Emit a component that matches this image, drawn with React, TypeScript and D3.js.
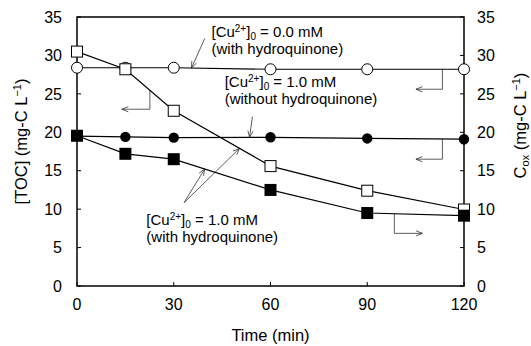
import * as d3 from 'd3';

// time (min)
const TIMES = [0, 15, 30, 60, 90, 120];
// [TOC], Cu 0.0 mM with hydroquinone (open circles)
const TOC_CU0 = [28.4, 28.4, 28.4, 28.2, 28.2, 28.2];
// [TOC], Cu 1.0 mM with hydroquinone (filled circles)
const TOC_CU1_HQ = [19.5, 19.4, 19.3, 19.35, 19.2, 19.1];
// C_ox, Cu 1.0 mM without hydroquinone (open squares)
const COX_CU1 = [30.5, 28.2, 22.8, 15.6, 12.4, 9.95];
// C_ox, Cu 1.0 mM with hydroquinone (filled squares)
const COX_CU1_HQ = [19.55, 17.2, 16.5, 12.5, 9.5, 9.15];

const X_TICKS = [0, 30, 60, 90, 120];
const Y_TICKS = [0, 5, 10, 15, 20, 25, 30, 35];

const W = 531;
const H = 346;
const FONT = '"Liberation Sans", Arial, sans-serif';

function arrowHead(x1: number, y1: number, x2: number, y2: number, len = 7, ang = 0.38) {
  const a = Math.atan2(y1 - y2, x1 - x2);
  const p1 = [x2 + len * Math.cos(a + ang), y2 + len * Math.sin(a + ang)];
  const p2 = [x2 + len * Math.cos(a - ang), y2 + len * Math.sin(a - ang)];
  return `M${p1[0]},${p1[1]}L${x2},${y2}L${p2[0]},${p2[1]}`;
}

function CuLabel({ x, y, conc, note }: { x: number; y: number; conc: string; note: string }) {
  return (
    <text x={x} y={y} fontSize={15} fontFamily={FONT} fill="#000">
      <tspan>[Cu</tspan>
      <tspan fontSize={10} dy={-5}>2+</tspan>
      <tspan dy={5}>]</tspan>
      <tspan fontSize={10} dy={3}>0</tspan>
      <tspan dy={-3}>{` = ${conc} mM`}</tspan>
      <tspan x={x} dy={17}>{note}</tspan>
    </text>
  );
}

export default function App() {
  const margin = { top: 17, right: 67, bottom: 60, left: 77 };
  const x = d3.scaleLinear().domain([0, 120]).range([margin.left, W - margin.right]);
  const y = d3.scaleLinear().domain([0, 35]).range([H - margin.bottom, margin.top]);
  const [x0, x1] = x.range();
  const [y0, y1] = y.range();

  const line = (vals: number[]) =>
    d3.line<number>().x((_, i) => x(TIMES[i])).y(v => y(v))(vals) ?? '';

  const lineAt = (vals: number[], t: number) => {
    const i = d3.bisectRight(TIMES, t) - 1;
    const f = (t - TIMES[i]) / (TIMES[i + 1] - TIMES[i]);
    return vals[i] + f * (vals[i + 1] - vals[i]);
  };

  const ann = '#333';
  const arrows: [number, number, number, number][] = [
    [39.6, 32.2, 35.5, lineAt(TOC_CU0, 35.5)],
    [54.4, 22.05, 53.5, lineAt(TOC_CU1_HQ, 53.5)],
    [33.2, 10.85, 39.6, lineAt(COX_CU1_HQ, 39.6)],
    [33.2, 10.85, 50.4, lineAt(COX_CU1, 50.4)],
  ];
  // elbow connectors: [t of vertical leg, end value, t of tip, series]
  const elbows: [number, number, number, number[]][] = [
    [22.6, 23.0, 13.9, COX_CU1],
    [113.3, 25.6, 105.1, TOC_CU0],
    [113.3, 16.5, 105.1, TOC_CU1_HQ],
    [98.4, 6.85, 107.1, COX_CU1_HQ],
  ];

  const tickFs = 16;
  const titleFs = 16.5;

  return (
    <svg width={W} height={H} style={{ position: 'absolute', left: 0, top: 0, background: '#fff' }}>
      {/* frame */}
      <rect x={x0} y={y1} width={x1 - x0} height={y0 - y1} fill="none" stroke="#000" strokeWidth={1.5} />
      {/* y ticks */}
      {Y_TICKS.map(t => (
        <g key={t}>
          <line x1={x0} x2={x0 + 4} y1={y(t)} y2={y(t)} stroke="#000" />
          <line x1={x1} x2={x1 - 4} y1={y(t)} y2={y(t)} stroke="#000" />
          <text x={x0 - 15} y={y(t)} dy="0.36em" textAnchor="end" fontSize={tickFs} fontFamily={FONT}>{t}</text>
          <text x={x1 + 13} y={y(t)} dy="0.36em" fontSize={tickFs} fontFamily={FONT}>{t}</text>
        </g>
      ))}
      {X_TICKS.map(t => (
        <g key={t}>
          <line x1={x(t)} x2={x(t)} y1={y0} y2={y0 - 4} stroke="#000" />
          <text x={x(t)} y={y0 + 24} textAnchor="middle" fontSize={tickFs} fontFamily={FONT}>{t}</text>
        </g>
      ))}
      {/* axis titles */}
      <text x={(x0 + x1) / 2} y={H - 5} textAnchor="middle" fontSize={titleFs} fontFamily={FONT}>Time (min)</text>
      <text transform={`translate(27,${(y0 + y1) / 2 - 10}) rotate(-90)`} textAnchor="middle" fontSize={titleFs} fontFamily={FONT}>
        [TOC] (mg-C L<tspan fontSize={11} dy={-6}>−1</tspan><tspan dy={6}>)</tspan>
      </text>
      <text transform={`translate(526,${(y0 + y1) / 2 - 26}) rotate(-90)`} textAnchor="middle" fontSize={titleFs} fontFamily={FONT}>
        C<tspan fontSize={11} dy={3}>ox</tspan><tspan dy={-3}> (mg-C L</tspan><tspan fontSize={11} dy={-6}>−1</tspan><tspan dy={6}>)</tspan>
      </text>

      {/* annotations */}
      <g stroke={ann} strokeWidth={0.8} fill="none">
        {arrows.map(([ta, va, tb, vb], i) => {
          const ax = x(ta), ay = y(va), bx = x(tb), by = y(vb);
          return (
            <g key={i}>
              <line x1={ax} y1={ay} x2={bx} y2={by} />
              <path d={arrowHead(ax, ay, bx, by)} />
            </g>
          );
        })}
        {elbows.map(([tv, ve, tt, s], i) => {
          const vx = x(tv), vy0 = y(lineAt(s, tv)), vy1 = y(ve), tx = x(tt);
          return (
            <g key={i}>
              <path d={`M${vx},${vy0}V${vy1}H${tx}`} />
              <path d={arrowHead(vx, vy1, tx, vy1)} />
            </g>
          );
        })}
      </g>

      {/* series lines */}
      <g fill="none" stroke="#000" strokeWidth={1.2}>
        <path d={line(TOC_CU0)} />
        <path d={line(TOC_CU1_HQ)} />
        <path d={line(COX_CU1)} />
        <path d={line(COX_CU1_HQ)} />
      </g>
      {/* markers */}
      {TOC_CU0.map((v, i) => (
        <circle key={`oc${i}`} cx={x(TIMES[i])} cy={y(v)} r={5.5} fill="#fff" stroke="#000" strokeWidth={1} />
      ))}
      {TOC_CU1_HQ.map((v, i) => (
        <circle key={`fc${i}`} cx={x(TIMES[i])} cy={y(v)} r={5.2} fill="#000" />
      ))}
      {COX_CU1.map((v, i) => (
        <rect key={`os${i}`} x={x(TIMES[i]) - 5.5} y={y(v) - 5.5} width={11} height={11} fill="#fff" stroke="#000" strokeWidth={1} />
      ))}
      {COX_CU1_HQ.map((v, i) => (
        <rect key={`fs${i}`} x={x(TIMES[i]) - 6} y={y(v) - 6} width={12} height={12} fill="#000" />
      ))}

      <CuLabel x={x(41.7)} y={37} conc="0.0" note="(with hydroquinone)" />
      <CuLabel x={x(45.8)} y={86.5} conc="1.0" note="(without hydroquinone)" />
      <CuLabel x={x(21.5)} y={225} conc="1.0" note="(with hydroquinone)" />
    </svg>
  );
}
